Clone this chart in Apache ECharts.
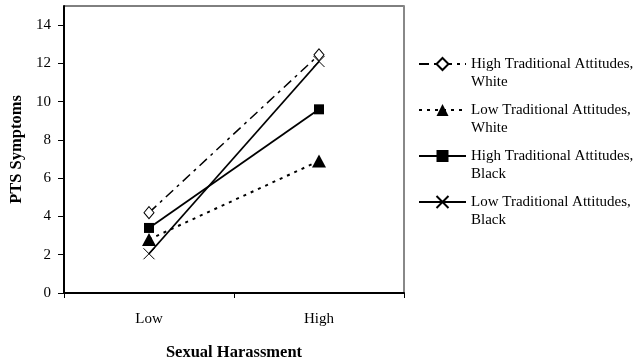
<!DOCTYPE html>
<html>
<head>
<meta charset="utf-8">
<script src="https://cdn.jsdelivr.net/npm/echarts@6/dist/echarts.min.js"></script>
<style>
  html, body { margin: 0; padding: 0; background: #fff; }
  #chart { width: 635px; height: 362px; }
</style>
</head>
<body>
<div id="chart"></div>
<script>
// Harassment level on the x axis
const categories = ['Low', 'High'];

// Mean PTS symptom scores per group
const highTradWhite = [4.2, 12.45];
const lowTradWhite = [2.8, 6.9];
const highTradBlack = [3.4, 9.6];
const lowTradBlack = [2.05, 12.1];

const seriesNames = [
  'High Traditional Attitudes,\nWhite',
  'Low Traditional Attitudes,\nWhite',
  'High Traditional Attitudes,\nBlack',
  'Low Traditional Attitudes,\nBlack'
];

const yTicks = [0, 2, 4, 6, 8, 10, 12, 14];

const FONT = '"Liberation Serif", "Times New Roman", serif';
const crossPath = 'path://M0,0L10,10M10,0L0,10';

const chart = echarts.init(document.getElementById('chart'), null, { renderer: 'canvas' });

chart.setOption({
  animation: false,
  backgroundColor: '#fff',
  textStyle: { fontFamily: FONT, color: '#000' },
  grid: {
    left: 64, right: 231, top: 6, bottom: 69,
    outerBoundsMode: 'none',
    containLabel: false,
    show: true, borderColor: '#000', borderWidth: 1
  },
  legend: {
    left: 413,
    top: 32,
    orient: 'vertical',
    itemWidth: 47,
    itemHeight: 15,
    itemGap: -8,
    // a blank leading line keeps the icon level with the first text line
    formatter: (name) => '\u00a0\n' + name,
    textStyle: {
      fontFamily: FONT, fontSize: 15, color: '#000', lineHeight: 18
    },
    data: seriesNames
  },
  xAxis: [{
    type: 'category',
    data: categories,
    boundaryGap: true,
    axisLine: { lineStyle: { color: '#000', width: 2 } },
    axisTick: { show: true, length: 5, lineStyle: { color: '#000' } },
    axisLabel: { fontFamily: FONT, fontSize: 15, color: '#000', margin: 19 },
    name: 'Sexual Harassment',
    nameLocation: 'middle',
    nameGap: 51,
    nameTextStyle: { fontFamily: FONT, fontSize: 16.5, fontWeight: 'bold', color: '#000' }
  }],
  yAxis: [{
    type: 'value',
    min: 0, max: 15, interval: 1,
    splitLine: { show: false },
    axisLine: { show: true, lineStyle: { color: '#000', width: 2 } },
    axisTick: { show: true, length: 6, customValues: yTicks, lineStyle: { color: '#000' } },
    axisLabel: { fontFamily: FONT, fontSize: 15, color: '#000', margin: 13, customValues: yTicks },
    name: 'PTS Symptoms',
    nameLocation: 'middle',
    nameGap: 37,
    nameRotate: 90,
    nameTextStyle: { fontFamily: FONT, fontSize: 16.5, fontWeight: 'bold', color: '#000' }
  }, {
    type: 'value',
    position: 'right',
    min: 0, max: 15,
    splitLine: { show: false },
    axisLine: { show: true, lineStyle: { color: '#888', width: 2 } },
    axisTick: { show: false },
    axisLabel: { show: false }
  }],
  series: [
    {
      name: seriesNames[0], type: 'line', data: highTradWhite,
      symbol: 'diamond', symbolSize: [10, 12],
      lineStyle: { color: '#000', width: 1.5, type: [10, 5, 3, 5] },
      itemStyle: { color: '#fff', borderColor: '#000', borderWidth: 1 },
      z: 3
    },
    {
      name: seriesNames[1], type: 'line', data: lowTradWhite,
      symbol: 'triangle', symbolSize: [14, 13],
      lineStyle: { color: '#000', width: 2, type: [3, 5] },
      itemStyle: { color: '#000', borderColor: '#000', borderWidth: 0 },
      z: 3
    },
    {
      name: seriesNames[2], type: 'line', data: highTradBlack,
      symbol: 'rect', symbolSize: 10,
      lineStyle: { color: '#000', width: 1.8, type: 'solid' },
      itemStyle: { color: '#000', borderColor: '#000', borderWidth: 0 },
      z: 3
    },
    {
      name: seriesNames[3], type: 'line', data: lowTradBlack,
      symbol: crossPath, symbolSize: 11,
      lineStyle: { color: '#000', width: 1.8, type: 'solid' },
      itemStyle: { color: '#000', borderColor: '#000', borderWidth: 1 },
      z: 3
    }
  ]
});
</script>
</body>
</html>
